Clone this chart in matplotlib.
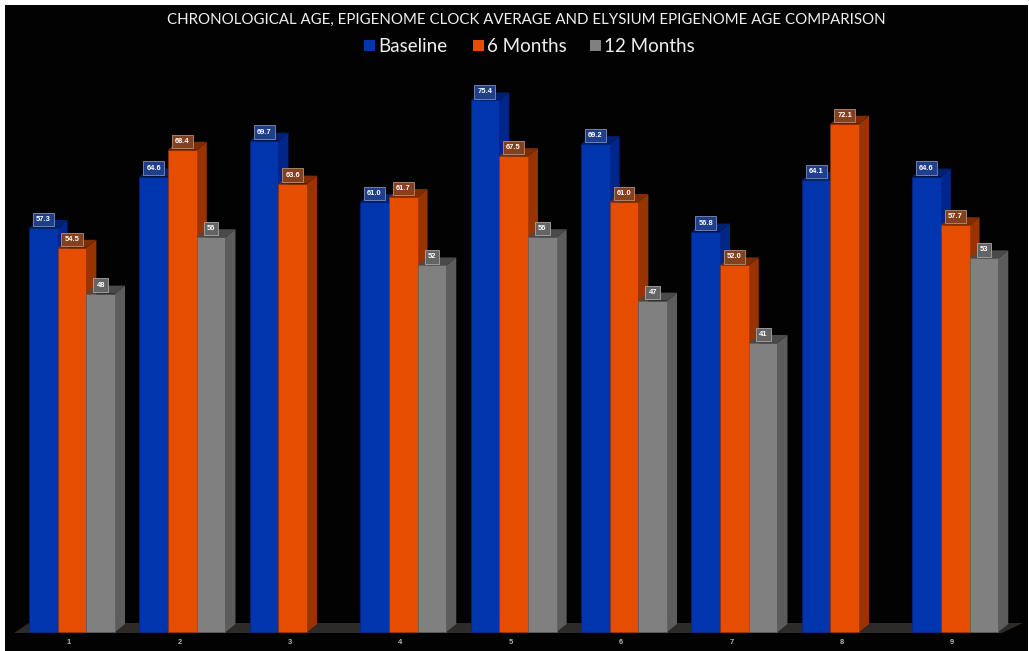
import matplotlib
matplotlib.use('Agg')
import matplotlib.pyplot as plt
from matplotlib.patches import Polygon, Rectangle

# Values per participant
groups = ['1', '2', '3', '4', '5', '6', '7', '8', '9']
baseline = [57.3, 64.6, 69.7, 61.0, 75.4, 69.2, 56.8, 64.1, 64.6]
six_months = [54.5, 68.4, 63.6, 61.7, 67.5, 61.0, 52.0, 72.1, 57.7]
twelve_months = [48, 56, None, 52, 56, 47, 41, None, 53]

series_names = ['Baseline', '6 Months', '12 Months']
series_fmt = ['{:.1f}', '{:.1f}', '{:.0f}']
front_colors = ['#0035ad', '#e64d00', '#808080']
side_colors = ['#00268a', '#983400', '#5c5c5c']
top_colors = ['#002070', '#7e2c00', '#4a4a4a']
box_colors = ['#1f3f8c', '#84401f', '#646464']
box_edges = ['#7f8fb5', '#b58f78', '#a8a8a8']

W, H = 1029, 651
BASE_PX = 632       # pixel row of value zero
PX_PER_UNIT = 7.05  # pixels per value unit
FIRST_PX = 72       # pixel column of first group centre
GROUP_PX = 110.4    # pixels between group centres

fig = plt.figure(figsize=(W / 100, H / 100), dpi=100, facecolor='white')
ax = fig.add_axes([0, 0, 1, 1])
ax.set_xlim(-FIRST_PX / GROUP_PX, (W - FIRST_PX) / GROUP_PX)
ax.set_ylim((BASE_PX - H) / PX_PER_UNIT, BASE_PX / PX_PER_UNIT)
ax.axis('off')

bar_w = 28.7 / GROUP_PX
dx = 10 / GROUP_PX
dy = 8 / PX_PER_UNIT


def px(x, y):
    # pixel position to data position
    return (x - FIRST_PX) / GROUP_PX, (BASE_PX - y) / PX_PER_UNIT


# black panel inside the thin white margin
x0, y0 = px(5, 651)
x1, y1 = px(1028, 5)
ax.add_patch(Rectangle((x0, y0), x1 - x0, y1 - y0, fc='#020202', ec='none', zorder=0))

# floor
ax.add_patch(Polygon([px(14, 633), px(1002, 633), px(1023, 623), px(29, 623)],
                     fc='#2e2a28', ec='none', zorder=1))

all_series = [baseline, six_months, twelve_months]
z = 2
for i in range(len(groups)):
    for s, values in enumerate(all_series):
        v = values[i]
        if v is None:
            continue
        left = i + (s - 1.5) * bar_w
        right = left + bar_w
        # side and top faces, then the front so the next bar covers them
        ax.add_patch(Polygon([(right, 0), (right + dx, dy), (right + dx, v + dy), (right, v)],
                             fc=side_colors[s], ec='none', zorder=z))
        ax.add_patch(Polygon([(left, v), (right, v), (right + dx, v + dy), (left + dx, v + dy)],
                             fc=top_colors[s], ec='none', zorder=z))
        ax.bar(left, v, bar_w, align='edge', color=front_colors[s],
               edgecolor=side_colors[s], linewidth=0.4, zorder=z + 0.5)
        z += 1

# value labels sit above everything
for i in range(len(groups)):
    for s, values in enumerate(all_series):
        v = values[i]
        if v is None:
            continue
        ax.text(i + (s - 1) * bar_w, v + 8.5 / PX_PER_UNIT, series_fmt[s].format(v),
                ha='center', va='center', color='white', fontsize=5.4, fontweight='bold',
                family='Liberation Sans', zorder=500,
                bbox=dict(boxstyle='square,pad=0.42', fc=box_colors[s], ec=box_edges[s], lw=0.6))
    tx, ty = px(0, 643)
    ax.text(i - 3 / GROUP_PX, ty, groups[i], ha='center', va='center', color='#b8b8b8',
            fontsize=5.4, fontweight='bold', family='Liberation Sans', zorder=500)

# title
tx, ty = px(526, 20)
ax.text(tx, ty, 'CHRONOLOGICAL AGE, EPIGENOME CLOCK AVERAGE AND ELYSIUM EPIGENOME AGE COMPARISON',
        ha='center', va='center', color='#f0f0f0', fontsize=10.85, family='Lato', zorder=500)

# legend
legend_px = [(364, 378), (473, 487), (590, 604)]
for s, (sq, lab) in enumerate(legend_px):
    sx, sy = px(sq, 51)
    ex, ey = px(sq + 11, 40)
    ax.add_patch(Rectangle((sx, sy), ex - sx, ey - sy, fc=front_colors[s], ec='none', zorder=500))
    tx, ty = px(lab, 46.5)
    ax.text(tx, ty, series_names[s], ha='left', va='center', color='#f0f0f0', fontsize=13.5,
            family='Lato', zorder=500)

fig.savefig('out.png', dpi=100, facecolor='white')
